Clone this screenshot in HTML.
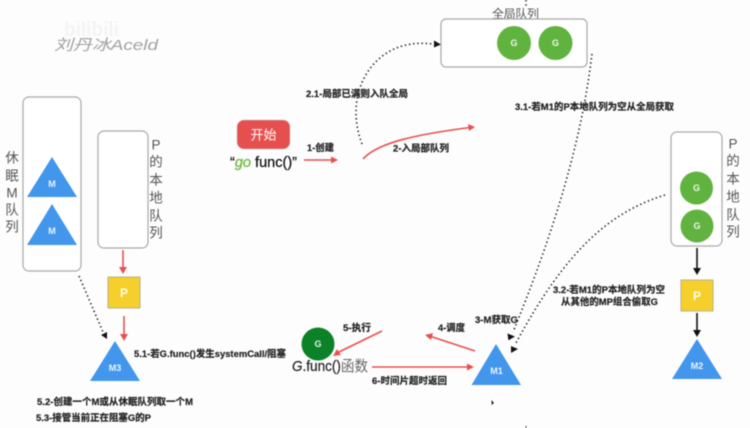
<!DOCTYPE html>
<html><head><meta charset="utf-8"><style>
html,body{margin:0;padding:0;background:#fdfdfd;width:750px;height:428px;overflow:hidden}
svg{display:block;filter:blur(.45px)}
text{font-family:"Liberation Sans","Noto Sans CJK SC",sans-serif}
.b{font-size:9.5px;font-weight:700;fill:#1f1f1f;stroke:#1f1f1f;stroke-width:.2}
.v{font-size:13.5px;fill:#555;text-anchor:middle;dominant-baseline:central}
.w{fill:#fff;font-size:9px;font-weight:700;text-anchor:middle;dominant-baseline:central;fill-opacity:.9}
.box{fill:#fff;stroke:#a9a9a9;stroke-width:1.2}
.dot{fill:none;stroke:#222;stroke-width:1.6;stroke-dasharray:1.4 2.8}
.red{fill:none;stroke:#e8504f;stroke-width:1.6}
</style></head><body>
<svg width="750" height="428" viewBox="0 0 750 428" xmlns="http://www.w3.org/2000/svg">
<rect width="750" height="428" fill="#fdfdfd"/>
<text x="64" y="36" font-size="20" font-weight="700" fill="#f4f4f4" textLength="55" lengthAdjust="spacingAndGlyphs">bilibili</text>
<text x="54" y="50" font-size="15" font-style="italic" fill="#a0a0a0" textLength="104" lengthAdjust="spacingAndGlyphs">刘丹冰Aceld</text>

<!-- left group -->
<rect class="box" x="23" y="97" width="58" height="174" rx="6"/>
<rect class="box" x="98" y="131" width="50" height="117" rx="6"/>
<polygon points="52,157 27,197 77,197" fill="#4296ec"/>
<polygon points="52,204 27,245 77,245" fill="#4296ec"/>
<text class="w" x="52" y="184">M</text><text class="w" x="52" y="231">M</text>
<text class="v" x="12" y="158">休</text><text class="v" x="12" y="176">眠</text><text class="v" x="12" y="193">M</text><text class="v" x="12" y="210">队</text><text class="v" x="12" y="227">列</text>
<text class="v" x="156" y="145">P</text><text class="v" x="156" y="162">的</text><text class="v" x="156" y="180">本</text><text class="v" x="156" y="198">地</text><text class="v" x="156" y="216">队</text><text class="v" x="156" y="233">列</text>
<line class="red" x1="123" y1="250" x2="123" y2="268"/><polygon points="119,267 127,267 123,274" fill="#e8504f"/>
<rect x="108" y="277" width="32" height="31" fill="#f5d02c" stroke="#b9b08a"/>
<text class="w" x="124" y="293" style="font-size:12px">P</text>
<line class="red" x1="124" y1="316" x2="124" y2="335"/><polygon points="120,334 128,334 124,341" fill="#e8504f"/>
<polygon points="115,341 90,381 140,381" fill="#4296ec"/>
<text class="w" x="115" y="368">M3</text>
<line class="dot" x1="79" y1="276" x2="103" y2="332"/><polygon points="101,335 107,332 107,339" fill="#111"/>
<text class="b" x="134" y="357" textLength="152" lengthAdjust="spacingAndGlyphs">5.1-若G.func()发生systemCall/阻塞</text>
<text class="b" x="37" y="405" textLength="156" lengthAdjust="spacingAndGlyphs">5.2-创建一个M或从休眠队列取一个M</text>
<text class="b" x="36" y="421" textLength="115" lengthAdjust="spacingAndGlyphs">5.3-接管当前正在阻塞G的P</text>

<!-- start -->
<rect x="237" y="120" width="53" height="29" rx="7" fill="#e5504f" stroke="#c9c9c9" stroke-width=".6"/>
<text x="263.500" y="135" font-size="13" fill="#fff" text-anchor="middle" dominant-baseline="central">开始</text>
<text x="230" y="167" font-size="14.500" fill="#111" stroke="#111" stroke-width=".25" textLength="67" lengthAdjust="spacingAndGlyphs">“<tspan fill="#6cb83a" stroke="#6cb83a" font-style="italic">go</tspan> func()”</text>
<line class="red" x1="304" y1="160" x2="332" y2="160"/><polygon points="331,156.500 331,163.500 338,160" fill="#e8504f"/>
<text class="b" x="307" y="151" textLength="27" lengthAdjust="spacingAndGlyphs">1-创建</text>
<path class="red" d="M363,159 C378,142 420,134 470,127.500"/><polygon points="468,124 469,131 475,127" fill="#e8504f"/>
<text class="b" x="393" y="151.500" textLength="56" lengthAdjust="spacingAndGlyphs">2-入局部队列</text>
<path class="dot" d="M362,144 C352,118 354,88 372,66 C388,47 410,41 433,44"/><polygon points="434,40.500 434,47.500 441,44.500" fill="#111"/>
<text class="b" x="306" y="97" textLength="102" lengthAdjust="spacingAndGlyphs">2.1-局部已满则入队全局</text>
<line class="dot" x1="526" y1="0" x2="526" y2="8"/>

<!-- global -->
<text x="492" y="18" font-size="12" fill="#555" textLength="47">全局队列</text>
<rect class="box" x="441" y="19" width="146" height="48" rx="5"/>
<circle cx="514" cy="43" r="17" fill="#61b33f"/><circle cx="555.500" cy="43" r="17" fill="#61b33f"/>
<text class="w" x="514" y="43">G</text><text class="w" x="555.500" y="43">G</text>
<text class="b" x="515" y="110" textLength="159" lengthAdjust="spacingAndGlyphs">3.1-若M1的P本地队列为空从全局获取</text>
<path class="dot" d="M592,54 C584,120 565,205 513,332"/>
<polygon points="508,333 508,340 515,337" fill="#111" transform="rotate(-8 511 337)"/>
<path class="dot" d="M665,195 C610,212 566,250 516,343"/>
<polygon points="511,346 511,353 518,349" fill="#111"/>

<!-- right -->
<rect class="box" x="671" y="132" width="51" height="114" rx="6"/>
<circle cx="696.500" cy="188" r="16.500" fill="#61b33f"/><circle cx="697" cy="226" r="16.500" fill="#61b33f"/>
<text class="w" x="696.500" y="188">G</text><text class="w" x="697" y="226">G</text>
<text class="v" x="733" y="144">P</text><text class="v" x="733" y="161">的</text><text class="v" x="733" y="179">本</text><text class="v" x="733" y="197">地</text><text class="v" x="733" y="215">队</text><text class="v" x="733" y="232">列</text>
<line x1="697" y1="248" x2="697" y2="270" stroke="#111" stroke-width="1.6"/><polygon points="693,268 701,268 697,275" fill="#111"/>
<rect x="681" y="280" width="32" height="31" fill="#f5d02c" stroke="#b9b08a"/>
<text class="w" x="697" y="296" style="font-size:12px">P</text>
<line x1="697" y1="313" x2="697" y2="332" stroke="#111" stroke-width="1.6"/><polygon points="693,330 701,330 697,337" fill="#111"/>
<polygon points="697,339 672,379 722,379" fill="#4296ec"/>
<text class="w" x="697" y="366">M2</text>
<text class="b" x="553" y="293" textLength="112" lengthAdjust="spacingAndGlyphs">3.2-若M1的P本地队列为空</text>
<text class="b" x="561" y="305" textLength="97" lengthAdjust="spacingAndGlyphs">从其他的MP组合偷取G</text>

<!-- M1 / G -->
<polygon points="496,344 471.500,385 521,385" fill="#4296ec"/>
<text class="w" x="496.500" y="371">M1</text>
<text class="b" x="475" y="323" textLength="43" lengthAdjust="spacingAndGlyphs">3-M获取G</text>
<text class="b" x="438" y="331" textLength="27" lengthAdjust="spacingAndGlyphs">4-调度</text>
<line class="red" x1="475" y1="351" x2="431" y2="336.500"/><polygon points="425,335 433,333 431,340" fill="#e8504f"/>
<text class="b" x="343" y="331" textLength="28" lengthAdjust="spacingAndGlyphs">5-执行</text>
<line class="red" x1="382" y1="331" x2="339" y2="352"/><polygon points="333,356 337,349 341,355" fill="#e8504f"/>
<circle cx="318" cy="344" r="16.500" fill="#0c8228"/>
<text class="w" x="318" y="344">G</text>
<text x="292" y="371" font-size="15" fill="#222" stroke="#222" stroke-width=".2" textLength="76" lengthAdjust="spacingAndGlyphs"><tspan font-style="italic">G</tspan>.func()<tspan fill="#666" stroke="none">函数</tspan></text>
<line class="red" x1="372" y1="367" x2="468" y2="367"/><polygon points="467,363.500 467,370.500 474,367" fill="#e8504f"/>
<text class="b" x="372" y="384" textLength="75" lengthAdjust="spacingAndGlyphs">6-时间片超时返回</text>
<polygon points="491.500,400 491.500,405 494,403" fill="#222"/>
<line x1="526" y1="426" x2="526" y2="428" stroke="#333"/>
</svg>
</body></html>
